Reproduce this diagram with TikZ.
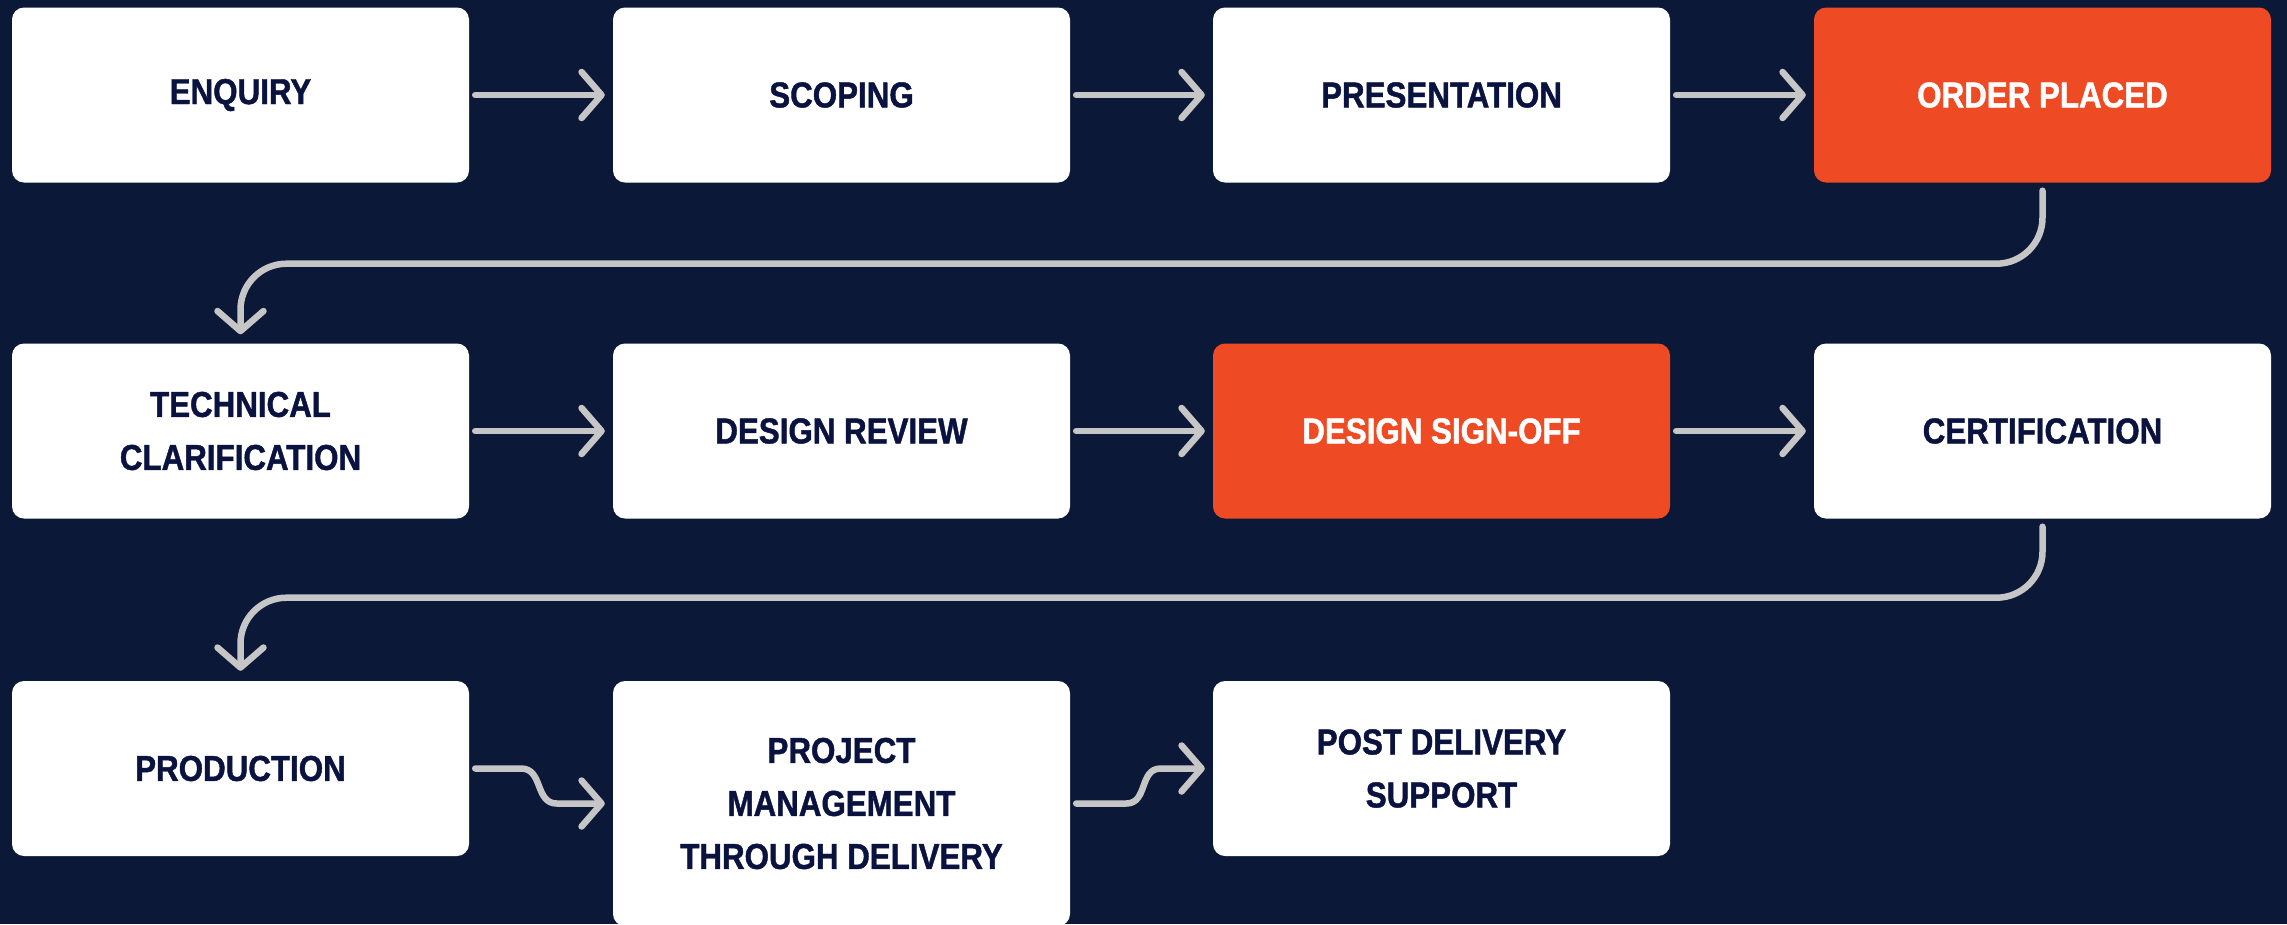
\documentclass[tikz,border=0pt]{standalone}
\usepackage{fontspec}
\usetikzlibrary{arrows.meta}
\newfontfamily\lblfont{Liberation Sans}[FakeStretch=0.87,BoldFeatures={FakeBold=1.2}]
\definecolor{bgnavy}{HTML}{0B1838}
\definecolor{txtnavy}{HTML}{0A1340}
\definecolor{orng}{HTML}{EE4A24}
\definecolor{conngrey}{HTML}{C6C6C6}
\tikzset{
  stepbox/.style={fill=white, rounded corners=12pt, minimum width=457pt, minimum height=175pt,
    inner sep=0pt, align=center, text=txtnavy, font=\lblfont\bfseries\fontsize{36}{53}\selectfont},
  hotbox/.style={stepbox, fill=orng, text=white},
  conn/.style={draw=conngrey, line width=6.5pt, line cap=round, line join=round,
    -{Straight Barb[length=20pt,width=46pt,round]}},
}
\begin{document}
\begin{tikzpicture}[x=1pt,y=-1pt]
\fill[bgnavy] (0,0) rectangle (2287,924);
\useasboundingbox (0,0) rectangle (2287,924);
% row 1
\node[stepbox] (a) at (240.5,95) {ENQUIRY};
\node[stepbox] (b) at (841.5,95) {SCOPING};
\node[stepbox] (c) at (1441.5,95) {PRESENTATION};
\node[hotbox]  (d) at (2042.5,95) {ORDER PLACED};
% row 2
\node[stepbox] (e) at (240.5,431) {TECHNICAL\\CLARIFICATION};
\node[stepbox] (f) at (841.5,431) {DESIGN REVIEW};
\node[hotbox]  (g) at (1441.5,431) {DESIGN SIGN-OFF};
\node[stepbox] (h) at (2042.5,431) {CERTIFICATION};
% row 3
\node[stepbox] (i) at (240.5,768.5) {PRODUCTION};
\node[stepbox, minimum height=245pt] (j) at (841.5,803.5) {PROJECT\\MANAGEMENT\\THROUGH DELIVERY};
\node[stepbox] (k) at (1441.5,768.5) {POST DELIVERY\\SUPPORT};
% straight connectors
\draw[conn] ([xshift=6pt]a.east) -- ([xshift=-8pt]b.west);
\draw[conn] ([xshift=6pt]b.east) -- ([xshift=-8pt]c.west);
\draw[conn] ([xshift=6pt]c.east) -- ([xshift=-8pt]d.west);
\draw[conn] ([xshift=6pt]e.east) -- ([xshift=-8pt]f.west);
\draw[conn] ([xshift=6pt]f.east) -- ([xshift=-8pt]g.west);
\draw[conn] ([xshift=6pt]g.east) -- ([xshift=-8pt]h.west);
% row wrap connectors
\draw[conn, rounded corners=46pt] ([yshift=-8pt]d.south) -- ([yshift=-81pt]d.south)
  -- ([yshift=-81pt]d.south -| e.north) -- ([yshift=9pt]e.north);
\draw[conn, rounded corners=46pt] ([yshift=-8pt]h.south) -- ([yshift=-79pt]h.south)
  -- ([yshift=-79pt]h.south -| i.north) -- ([yshift=10pt]i.north);
% S-shaped connectors
\draw[conn] ([xshift=6pt]i.east) -- ++(46,0) .. controls +(22,0) and +(-22,0) ..
  ([xshift=-56pt]j.west) -- ([xshift=-8pt]j.west);
\draw[conn] ([xshift=6pt]j.east) -- ++(50,0) .. controls +(22,0) and +(-22,0) ..
  ([xshift=-52pt]k.west) -- ([xshift=-8pt]k.west);
\end{tikzpicture}
\end{document}
